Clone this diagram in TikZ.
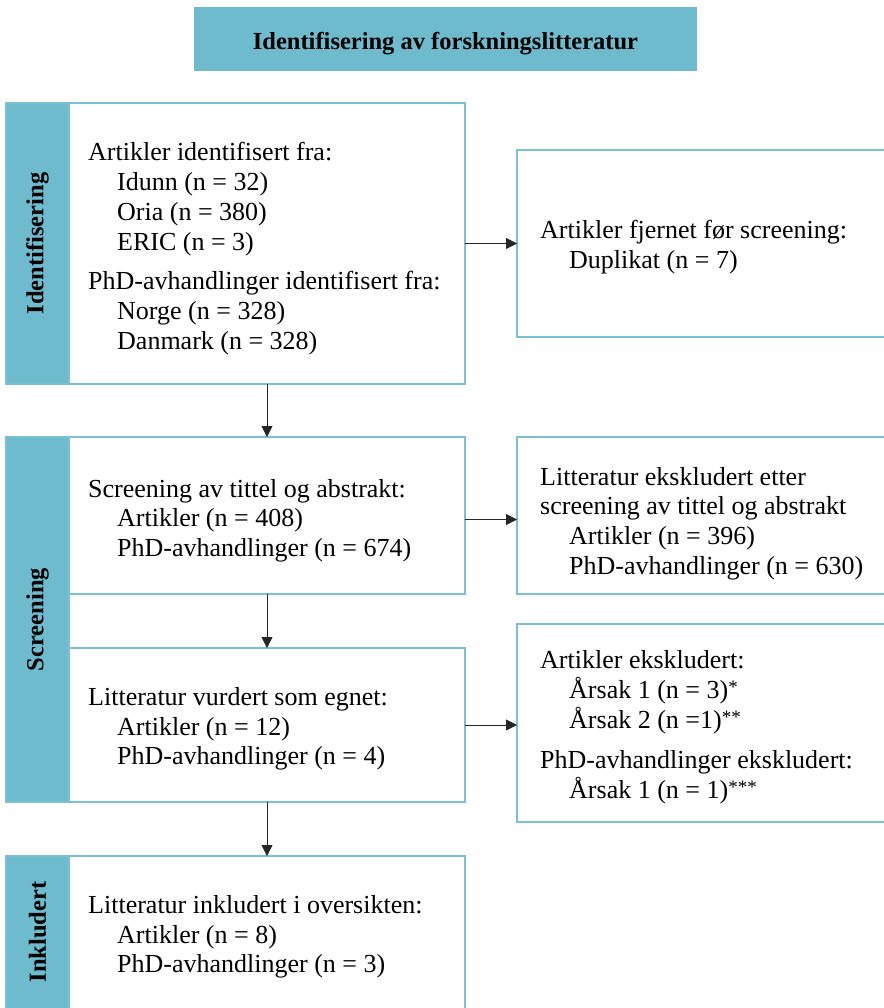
\documentclass[tikz,border=0pt]{standalone}
\usepackage{fontspec}
\setmainfont{Liberation Serif}
\usetikzlibrary{arrows.meta}
\definecolor{barc}{RGB}{111,187,206}
\definecolor{framec}{RGB}{122,193,211}
\begin{document}
\begin{tikzpicture}[x=1pt,y=-1pt,
  box/.style={draw=framec,line width=2pt,fill=white,anchor=north west,inner sep=0pt,outer sep=0pt},
  barbox/.style={fill=barc,draw=framec,line width=2pt,anchor=north west,inner sep=0pt,outer sep=0pt,minimum width=63pt},
  txt/.style={anchor=base west,inner sep=0pt,font=\fontsize{26}{29.7}\selectfont},
  lab/.style={rotate=90,font=\fontsize{24.5}{28}\selectfont\bfseries,inner sep=0pt},
  arr/.style={-{Triangle[length=11pt,width=11pt]},line width=0.8pt,draw=black!85}]
\useasboundingbox (0,0) rectangle (883,1008);
\newcommand{\ind}{\hspace*{29pt}}
\newcommand{\myast}[1]{{\fontsize{19}{19}\selectfont\raisebox{5pt}{#1}}}
% title
\node[fill=barc,anchor=north west,inner sep=0pt,minimum width=503pt,minimum height=64pt] (title) at (194,7) {};
\node[font=\fontsize{24.5}{28}\selectfont\bfseries,inner sep=0pt,anchor=base] (titlet) at (445.5,49.5) {Identifisering av forskningslitteratur};
% Identifisering
\node[barbox,minimum height=281pt] (idbar) at (6,103) {};
\node[box,minimum width=396pt,minimum height=281pt] (idb) at (69,103) {};
\node[lab] (idlab) at (idbar.center) {Identifisering};
\node[txt] (idt) at (88,161) {\begin{tabular}[t]{@{}l@{}}
Artikler identifisert fra:\\
\ind Idunn (n = 32)\\
\ind Oria (n = 380)\\
\ind ERIC (n = 3)\\[10pt]
PhD-avhandlinger identifisert fra:\\
\ind Norge (n = 328)\\
\ind Danmark (n = 328)
\end{tabular}};
\node[box,minimum width=373pt,minimum height=187pt] (r1) at (517,150) {};
\node[txt] (r1t) at (540,239) {\begin{tabular}[t]{@{}l@{}}
Artikler fjernet før screening:\\
\ind Duplikat (n = 7)
\end{tabular}};
% Screening
\node[barbox,minimum height=365pt] (scbar) at (6,437) {};
\node[box,minimum width=396pt,minimum height=157pt] (s1) at (69,437) {};
\node[box,minimum width=396pt,minimum height=154pt] (s2) at (69,648) {};
\node[lab] (sclab) at (scbar.center) {Screening};
\node[txt] (s1t) at (88,497) {\begin{tabular}[t]{@{}l@{}}
Screening av tittel og abstrakt:\\
\ind Artikler (n = 408)\\
\ind PhD-avhandlinger (n = 674)
\end{tabular}};
\node[txt] (s2t) at (88,705.5) {\begin{tabular}[t]{@{}l@{}}
Litteratur vurdert som egnet:\\
\ind Artikler (n = 12)\\
\ind PhD-avhandlinger (n = 4)
\end{tabular}};
\node[box,minimum width=373pt,minimum height=157pt] (r2) at (517,437) {};
\node[txt] (r2t) at (540,485) {\begin{tabular}[t]{@{}l@{}}
Litteratur ekskludert etter\\
screening av tittel og abstrakt\\
\ind Artikler (n = 396)\\
\ind PhD-avhandlinger (n = 630)
\end{tabular}};
\node[box,minimum width=373pt,minimum height=198pt] (r3) at (517,624) {};
\node[txt] (r3t) at (540,668) {\begin{tabular}[t]{@{}l@{}}
Artikler ekskludert:\\
\ind Årsak 1 (n = 3)\myast{*}\\
\ind Årsak 2 (n =1)\myast{**}\\[10pt]
PhD-avhandlinger ekskludert:\\
\ind Årsak 1 (n = 1)\myast{***}
\end{tabular}};
% Inkludert
\node[barbox,minimum height=156pt] (inbar) at (6,856) {};
\node[box,minimum width=396pt,minimum height=156pt] (inb) at (69,856) {};
\node[lab] (inlab) at (6+31.5,932) {Inkludert};
\node[txt] (int) at (88,913.5) {\begin{tabular}[t]{@{}l@{}}
Litteratur inkludert i oversikten:\\
\ind Artikler (n = 8)\\
\ind PhD-avhandlinger (n = 3)
\end{tabular}};
% arrows
\draw[arr] (idb.south) -- (s1.north);
\draw[arr] (s1.south) -- (s2.north);
\draw[arr] (s2.south) -- (inb.north);
\draw[arr] (idb.east) -- (r1.west);
\draw[arr] ([yshift=-4pt]s1.east) -- ([yshift=-4pt]r2.west);
\draw[arr] (s2.east) -- (s2.east -| r3.west);
\end{tikzpicture}
\end{document}
